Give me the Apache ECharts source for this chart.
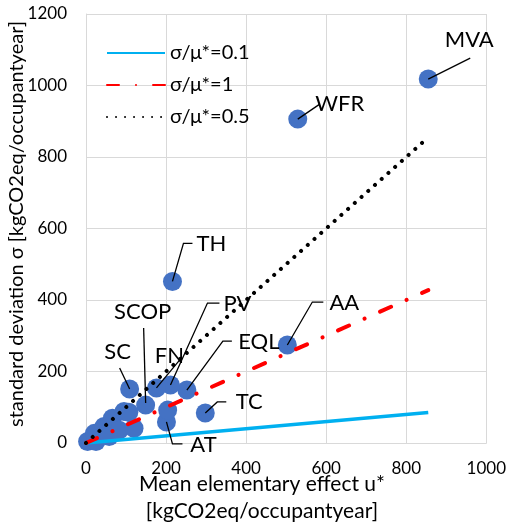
<!DOCTYPE html>
<html>
<head>
<meta charset="utf-8">
<script src="https://cdn.jsdelivr.net/npm/echarts@6/dist/echarts.min.js"></script>
<style>
  html, body { margin: 0; padding: 0; background: #fff; }
  #chart { width: 509px; height: 526px; }
</style>
</head>
<body>
<div id="chart"></div>
<script>
// Morris screening results: mean elementary effect vs standard deviation
const pointNames = ['MVA', 'WFR', 'TH', 'AA', 'TC', 'EQL', 'PV', 'FN', 'SCOP', 'SC', 'AT', '', '', '', '', '', '', '', '', '', '', ''];
const muStar = [855, 529, 216, 503, 298, 252, 211, 176, 149, 109, 201, 204, 4, 25, 21, 45, 58, 66, 83, 95, 107, 120];
const sigma  = [1018, 906, 452, 274, 84, 148, 162, 154, 106, 151, 59, 92, 4, 4, 27, 46, 18, 69, 36, 88, 86, 41];

// Reference ratio lines sigma/mu*
const lineNames = ['σ/μ*=0.1', 'σ/μ*=1', 'σ/μ*=0.5'];
const lineX = [0, 855];
const lineLow = [0, 85.5];
const lineMid = [0, 427.5];
const lineHigh = [0, 855];

const xTicks = [0, 200, 400, 600, 800, 1000];
const yTicks = [0, 200, 400, 600, 800, 1000, 1200];

// Label placement for annotated points, in pixels relative to the point:
// [text dx, text dy, leader polyline as [dx, dy] pairs]
const labelLayout = {
  MVA:  [41, -39, [[0, 0], [42, -21]]],
  WFR:  [42, -15, [[0, 0], [22, -15]]],
  TH:   [39, -38, [[0, 0], [11, -38], [20, -38]]],
  AA:   [57, -42, [[0, 0], [25, -43], [36, -43]]],
  TC:   [44, -11, [[0, 0], [12, -11], [21, -11]]],
  EQL:  [72, -48, [[0, 0], [36, -49], [45, -49]]],
  PV:   [67, -81, [[0, 0], [37, -82], [49, -82]]],
  FN:   [13, -32, [[0, 0], [25, -30]]],
  SCOP: [-3, -93, [[0, -2], [-2, -77]]],
  SC:   [-12, -37, [[0, 0], [-10, -21]]],
  AT:   [37, 23, [[0, 0], [6, 22], [16, 22]]]
};

const FONT = 'Lato';

const scatterData = muStar.map((x, i) => [x, sigma[i]]);
const labelData = [];
pointNames.forEach((n, i) => { if (n) labelData.push([muStar[i], sigma[i], i]); });

const chart = echarts.init(document.getElementById('chart'), null, { renderer: 'canvas' });

chart.setOption({
  animation: false,
  backgroundColor: '#ffffff',
  textStyle: { fontFamily: FONT },
  grid: { left: 86, right: 20, top: 14, bottom: 83, containLabel: false },
  legend: {
    data: lineNames,
    orient: 'vertical',
    left: 101,
    top: 38,
    itemWidth: 58,
    itemHeight: 14,
    itemGap: 12,
    itemStyle: { opacity: 0 },
    textStyle: { fontFamily: FONT, fontSize: 20, color: '#000' },
    selectedMode: false
  },
  xAxis: {
    type: 'value',
    min: xTicks[0],
    max: xTicks[xTicks.length - 1],
    interval: xTicks[1] - xTicks[0],
    axisLine: { show: true, lineStyle: { color: '#d9d9d9', width: 1 } },
    axisTick: { show: false },
    splitLine: { show: true, lineStyle: { color: '#d9d9d9', width: 1 } },
    axisLabel: { color: '#000', fontSize: 17, fontFamily: FONT, margin: 17, formatter: v => String(v) }
  },
  yAxis: {
    type: 'value',
    min: yTicks[0],
    max: yTicks[yTicks.length - 1],
    interval: yTicks[1] - yTicks[0],
    axisLine: { show: true, lineStyle: { color: '#d9d9d9', width: 1 } },
    axisTick: { show: false },
    splitLine: { show: true, lineStyle: { color: '#d9d9d9', width: 1 } },
    axisLabel: { color: '#000', fontSize: 17, fontFamily: FONT, margin: 19, formatter: v => String(v) }
  },
  graphic: [
    {
      type: 'text',
      x: 262, y: 484,
      style: { text: 'Mean elementary effect u*', font: '21px ' + FONT, fill: '#000', align: 'center', verticalAlign: 'middle' }
    },
    {
      type: 'text',
      x: 262, y: 511,
      style: { text: '[kgCO2eq/occupantyear]', font: '21px ' + FONT, fill: '#000', align: 'center', verticalAlign: 'middle' }
    },
    {
      type: 'text',
      x: 17, y: 224, rotation: Math.PI / 2,
      style: { text: 'standard deviation σ [kgCO2eq/occupantyear]', font: '20px ' + FONT, fill: '#000', align: 'center', verticalAlign: 'middle' }
    }
  ],
  series: [
    {
      name: 'points',
      type: 'scatter',
      data: scatterData,
      symbol: 'circle',
      symbolSize: 19,
      itemStyle: { color: '#4472c4', opacity: 1 },
      z: 2
    },
    {
      name: lineNames[0],
      type: 'line',
      data: lineX.map((x, i) => [x, lineLow[i]]),
      symbol: 'none',
      lineStyle: { color: '#00b0f0', width: 3.5 },
      z: 3
    },
    {
      name: lineNames[1],
      type: 'line',
      data: lineX.map((x, i) => [x, lineMid[i]]),
      symbol: 'none',
      lineStyle: { color: '#ff0000', width: 4, type: [12, 17, 0.01, 17], cap: 'round' },
      z: 3
    },
    {
      name: lineNames[2],
      type: 'line',
      data: lineX.map((x, i) => [x, lineHigh[i]]),
      symbol: 'none',
      lineStyle: { color: '#000000', width: 4, type: [0.01, 9], cap: 'round' },
      z: 3
    },
    {
      name: 'labels',
      type: 'custom',
      data: labelData,
      z: 4,
      renderItem: function (params, api) {
        const idx = api.value(2);
        const name = pointNames[idx];
        const lay = labelLayout[name];
        const p = api.coord([api.value(0), api.value(1)]);
        return {
          type: 'group',
          children: [
            {
              type: 'polyline',
              shape: { points: lay[2].map(o => [p[0] + o[0], p[1] + o[1]]) },
              style: { stroke: '#000', lineWidth: 1.3, fill: null }
            },
            {
              type: 'text',
              x: p[0] + lay[0],
              y: p[1] + lay[1],
              style: { text: name, font: '22px ' + FONT, fill: '#000', align: 'center', verticalAlign: 'middle' }
            }
          ]
        };
      }
    }
  ]
});
</script>
</body>
</html>
